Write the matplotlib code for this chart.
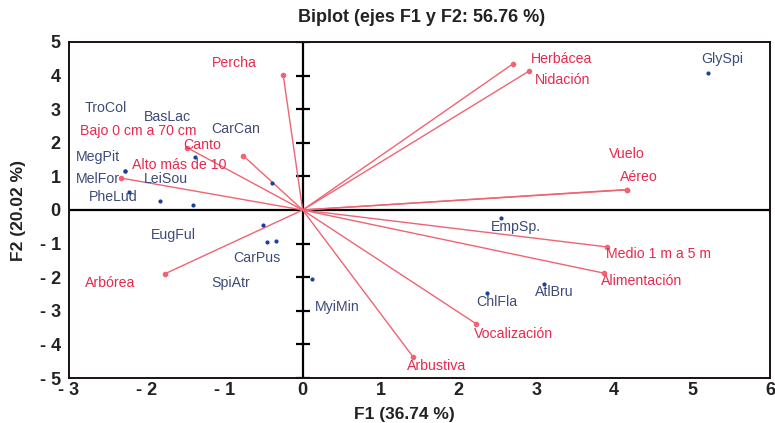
import matplotlib.pyplot as plt
import numpy as np
from matplotlib.ticker import FuncFormatter

plt.rcParams['font.family'] = ['Liberation Sans', 'DejaVu Sans']

# variables (vectores)
var_names = ["Percha", "Herbácea", "Nidación", "Vuelo", "Aéreo",
             "Bajo 0 cm a 70 cm", "Canto", "Alto más de 10",
             "Medio 1 m a 5 m", "Alimentación", "Arbórea",
             "Vocalización", "Arbustiva"]
var_f1 = [-0.25, 2.70, 2.91, 4.16, 4.17, -2.33, -1.48, -0.76,
          3.91, 3.87, -1.77, 2.23, 1.42]
var_f2 = [4.02, 4.35, 4.14, 0.61, 0.60, 0.95, 1.85, 1.61,
          -1.10, -1.88, -1.90, -3.39, -4.38]

# especies (observaciones)
sp_names = ["GlySpi", "EmpSp.", "AtlBru", "ChlFla", "MyiMin",
            "EugFul", "CarPus", "SpiAtr", "MegPit", "PheLud",
            "MelFor", "LeiSou", "BasLac", "CarCan", "TroCol"]
sp_f1 = [5.21, 2.54, 3.10, 2.37, 0.12, -0.51, -0.46, -0.34,
         -2.28, -2.23, -1.83, -1.41, -1.38, -0.40, -2.28]
sp_f2 = [4.08, -0.24, -2.20, -2.47, -2.05, -0.45, -0.95, -0.92,
         1.16, 0.54, 0.27, 0.15, 1.58, 0.80, 1.16]

# label offsets in pixels (layout only)
var_off = [(-49, 12), (49, 5), (33, -9), (0, 36), (11, 13),
           (17, 47), (15, 3), (-64, -9), (51, -7), (37, -8),
           (-55, -9), (37, -10), (23, -9)]
sp_off = [(14, 14), (15, -9), (10, -8), (10, -9), (25, -28),
          (-90, -10), (-10, -16), (-45, -42), (-27, 14), (-16, -5),
          (-62, 22), (-27, 26), (-28, 40), (-36, 54), (-19, 63)]

red_line = '#EF6472'
red_text = '#E8294E'
blue_text = '#3E4A78'
blue_dot = '#1C3F99'

fig = plt.figure(figsize=(7.75, 4.23), dpi=100)
ax = fig.add_axes([69 / 775, 1 - 378 / 423, 701 / 775, 336 / 423])
ax.set_xlim(-3, 6)
ax.set_ylim(-5, 5)

# ejes centrales
ax.axhline(0, color='k', lw=1.6, zorder=1)
ax.axvline(0, color='k', lw=1.6, zorder=1)
yt = [v for v in range(-5, 6) if v != 0]
ax.plot([0] * len(yt), yt, ls='none', marker='_', ms=10, mew=1.6,
        color='k', zorder=1)

# vectores
for name, x, y, off in zip(var_names, var_f1, var_f2, var_off):
    ax.plot([0, x], [0, y], color=red_line, lw=1.0, zorder=2)
    ax.plot(x, y, 'o', color=red_line, ms=3, zorder=3)
    ax.annotate(name, (x, y), xytext=off, textcoords='offset pixels',
                ha='center', va='center', color=red_text, fontsize=10.2)

# especies
ax.plot(sp_f1, sp_f2, 'o', color=blue_dot, ms=2, zorder=3)
for name, x, y, off in zip(sp_names, sp_f1, sp_f2, sp_off):
    ax.annotate(name, (x, y), xytext=off, textcoords='offset pixels',
                ha='center', va='center', color=blue_text, fontsize=10.2)

for s in ax.spines.values():
    s.set_linewidth(1.4)
    s.set_color('#1a1010')

fmt = FuncFormatter(lambda v, p: f"- {abs(int(round(v)))}" if v < 0 else f"{int(round(v))}")
ax.set_xticks(range(-3, 7))
ax.set_yticks(range(-5, 6))
ax.xaxis.set_major_formatter(fmt)
ax.yaxis.set_major_formatter(fmt)
ax.tick_params(length=0, labelsize=13)
ax.tick_params(axis='x', pad=3)
ax.tick_params(axis='y', pad=6)
for lab in ax.get_xticklabels() + ax.get_yticklabels():
    lab.set_fontweight('bold')
    lab.set_color('#222222')

fig.text(422 / 775, 1 - 18 / 423, "Biplot (ejes F1 y F2: 56.76 %)",
         ha='center', va='center', fontsize=13, fontweight='bold', color='#222222')
fig.text(404 / 775, 1 - 414 / 423, "F1 (36.74 %)",
         ha='center', va='center', fontsize=12.5, fontweight='bold', color='#222222')
fig.text(19 / 775, 1 - 210 / 423, "F2 (20.02 %)", rotation=90,
         ha='center', va='center', fontsize=12.5, fontweight='bold', color='#222222')

fig.savefig('out.png', dpi=100)
